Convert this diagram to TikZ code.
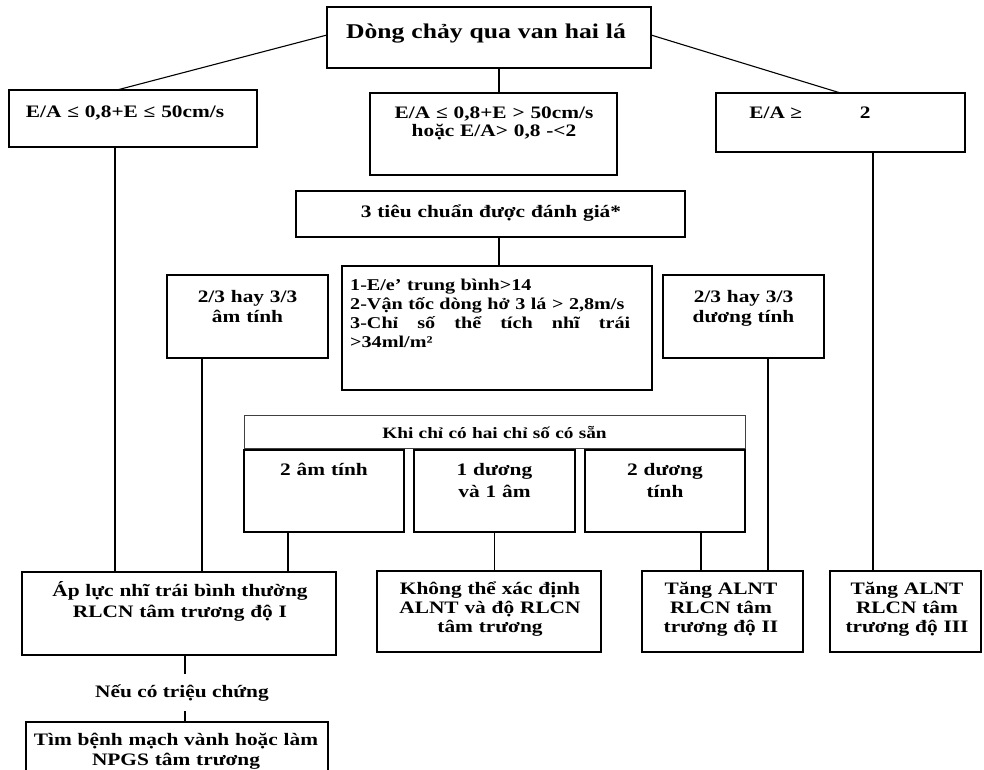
\documentclass[tikz,border=0pt]{standalone}
\usepackage{fontspec}
\setmainfont{Liberation Serif}[FakeStretch=1.22, Ligatures=ResetAll]
\tikzset{
  box/.style={draw, line width=2.2pt, inner sep=0pt, outer sep=0pt, anchor=north west},
  thinbox/.style={draw=black!75, line width=0.8pt, inner sep=0pt, outer sep=0pt, anchor=north west},
  txt/.style={inner sep=0pt, align=center, anchor=base, font=\bfseries\fontsize{17.5}{21}\selectfont},
  link/.style={line width=1.4pt},
  slant/.style={line width=1.1pt},
}
\begin{document}
\begin{tikzpicture}[x=1pt,y=-1pt]
\useasboundingbox (0,0) rectangle (984,769);
\fill[white] (0,0) rectangle (984,769);
\clip (0,0) rectangle (984,769);
% boxes
\node[box, minimum width=324pt, minimum height=61pt] (top) at (327,7) {};
\node[box, minimum width=248pt, minimum height=57pt] (left) at (9,90) {};
\node[box, minimum width=247pt, minimum height=82pt] (mid) at (370,93) {};
\node[box, minimum width=249pt, minimum height=59pt] (right) at (716,93) {};
\node[box, minimum width=389pt, minimum height=46pt] (tc) at (296,191) {};
\node[box, minimum width=310pt, minimum height=124pt] (crit) at (342,266) {};
\node[box, minimum width=161pt, minimum height=83pt] (neg) at (167,275) {};
\node[box, minimum width=161pt, minimum height=83pt] (pos) at (663,275) {};
\node[thinbox, minimum width=501pt, minimum height=33pt] (khi) at (244,415) {};
\node[box, minimum width=160pt, minimum height=82pt] (s1) at (244,450) {};
\node[box, minimum width=161pt, minimum height=82pt] (s2) at (414,450) {};
\node[box, minimum width=160pt, minimum height=82pt] (s3) at (585,450) {};
\node[box, minimum width=314pt, minimum height=83pt] (ap) at (22,572) {};
\node[box, minimum width=224pt, minimum height=81pt] (kh) at (377,571) {};
\node[box, minimum width=161pt, minimum height=81pt] (t2) at (642,571) {};
\node[box, minimum width=151pt, minimum height=81pt] (t3) at (830,571) {};
\node[box, minimum width=302pt, minimum height=70pt] (tim) at (26,722) {};
% texts
\node[txt, text width=320pt, font=\bfseries\fontsize{21}{25}\selectfont] (topT) at (486,38) {Dòng chảy qua van hai lá};
\node[txt, text width=240pt] (leftT) at (125,117) {E/A ≤ 0,8+E ≤ 50cm/s};
\node[txt, text width=240pt, font=\bfseries\fontsize{17.5}{18.5}\selectfont] (midT) at (494,118) {E/A ≤ 0,8+E > 50cm/s\\hoặc E/A> 0,8 -<2};
\node[txt] (rightT) at (810,118) {E/A ≥\hspace{58pt}2};
\node[txt, text width=380pt] (tcT) at (491,217) {3 tiêu chuẩn được đánh giá*};
\node[txt, anchor=base west, align=left, text width=280pt, font=\bfseries\fontsize{16.5}{19.2}\selectfont] (critT) at (350,290)
  {1-E/e' trung bình>14\\2-Vận tốc dòng hở 3 lá > 2,8m/s\\3-Chỉ\hfill số\hfill thể\hfill tích\hfill nhĩ\hfill trái\\>34ml/m²};
\node[txt, text width=155pt, font=\bfseries\fontsize{17.5}{20}\selectfont] (negT) at (247.5,302) {2/3 hay 3/3\\âm tính};
\node[txt, text width=155pt, font=\bfseries\fontsize{17.5}{20}\selectfont] (posT) at (743.5,302) {2/3 hay 3/3\\dương tính};
\node[txt, text width=480pt, font=\bfseries\fontsize{15.8}{19}\selectfont] (khiT) at (494.5,438) {Khi chỉ có hai chỉ số có sẵn};
\node[txt, text width=155pt, font=\bfseries\fontsize{17.5}{22}\selectfont] (s1T) at (324,475) {2 âm tính};
\node[txt, text width=155pt, font=\bfseries\fontsize{17.5}{22}\selectfont] (s2T) at (494.5,475) {1 dương\\và 1 âm};
\node[txt, text width=155pt, font=\bfseries\fontsize{17.5}{22}\selectfont] (s3T) at (665,475) {2 dương\\tính};
\node[txt, text width=305pt] (apT) at (180,596) {Áp lực nhĩ trái bình thường\\RLCN tâm trương độ I};
\node[txt, text width=220pt, font=\bfseries\fontsize{17.5}{19}\selectfont] (khT) at (490,594) {Không thể xác định\\ALNT và độ RLCN\\tâm trương};
\node[txt, text width=158pt, font=\bfseries\fontsize{17.5}{19}\selectfont] (t2T) at (721,594) {Tăng ALNT\\RLCN tâm\\trương độ II};
\node[txt, text width=150pt, font=\bfseries\fontsize{17.5}{19}\selectfont] (t3T) at (907,594) {Tăng ALNT\\RLCN tâm\\trương độ III};
\node[txt, inner ysep=10pt] (ncT) at (182,697) {Nếu có triệu chứng};
\node[txt, text width=295pt, font=\bfseries\fontsize{17.5}{20}\selectfont] (timT) at (176,745) {Tìm bệnh mạch vành hoặc làm\\NPGS tâm trương};
% connectors
\draw[slant] ([yshift=2.5pt]top.west) -- ([xshift=-16pt]left.north);
\draw[slant] ([yshift=2.5pt]top.east) -- (right.north);
\draw[link] ([xshift=10pt]top.south) -- ([xshift=10pt]top.south |- mid.north);
\draw[link] ([xshift=8.5pt]tc.south) -- ([xshift=8.5pt]tc.south |- crit.north);
\draw[link] ([xshift=-18pt]left.south) -- ([xshift=-18pt]left.south |- ap.north);
\draw[link] ([xshift=-45.5pt]neg.south) -- ([xshift=-45.5pt]neg.south |- ap.north);
\draw[link] ([xshift=-36pt]s1.south) -- ([xshift=-36pt]s1.south |- ap.north);
\draw[link] (s2.south) -- (s2.south |- kh.north);
\draw[link] ([xshift=36pt]s3.south) -- ([xshift=36pt]s3.south |- t2.north);
\draw[link] ([xshift=24.5pt]pos.south) -- ([xshift=24.5pt]pos.south |- t2.north);
\draw[link] ([xshift=32.5pt]right.south) -- ([xshift=32.5pt]right.south |- t3.north);
\draw[link] ([xshift=6pt]ap.south) -- ([xshift=6pt]ap.south |- ncT.north);
\draw[link] ([xshift=3pt]ncT.south) -- ([xshift=3pt]ncT.south |- tim.north);
\end{tikzpicture}
\end{document}
